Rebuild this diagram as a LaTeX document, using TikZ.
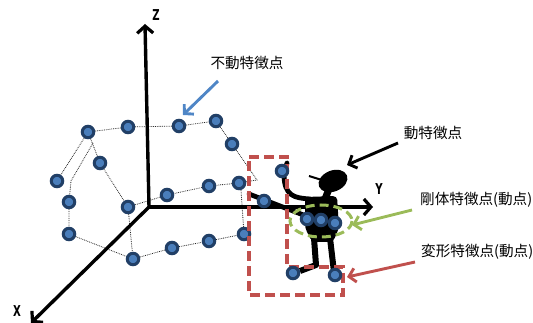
\documentclass[tikz,border=0pt]{standalone}
\usepackage{fontspec}
\setmainfont{Liberation Sans}
\newfontfamily\jpfont{Noto Sans CJK JP}
\newfontfamily\axfont{DejaVu Sans Condensed}
\usetikzlibrary{arrows.meta}
\definecolor{dotfill}{HTML}{4A7EBB}
\definecolor{dotedge}{HTML}{213F66}
\definecolor{callblue}{HTML}{4F86C6}
\definecolor{callgreen}{HTML}{9BBB59}
\definecolor{callred}{HTML}{C0504D}
\begin{document}
\begin{tikzpicture}[x=1pt,y=-1pt,
  feat/.style={circle,draw=dotedge,fill=dotfill,line width=3pt,minimum size=11.5pt,inner sep=0pt},
  wire/.style={densely dotted,line width=0.8pt,black!85},
  axis/.style={line width=3.4pt,-{Straight Barb[length=7pt,width=16pt,line width=3.2pt]}},
  callout/.style={line width=2.9pt,-{Straight Barb[length=6.5pt,width=14pt,line width=2.9pt]}},
  lbl/.style={font=\jpfont\fontsize{14.6}{15}\selectfont,inner sep=0pt},
  axlbl/.style={font=\axfont\bfseries\fontsize{15}{15}\selectfont,inner sep=0pt},
  limb/.style={line width=4.8pt,line cap=round,line join=round}]
\useasboundingbox (0,0) rectangle (533,323);

% ---- feature points of the static structure ----
\node[feat] (t1) at (88,132) {};
\node[feat] (t2) at (128,127) {};
\node[feat] (t3) at (179,126) {};
\node[feat] (t4) at (216,121) {};
\node[feat] (t5) at (232,144) {};
\node[feat] (s1) at (100,163) {};
\node[feat] (s2) at (57,181) {};
\node[feat] (s3) at (69,202) {};
\node[feat] (m1) at (128,207) {};
\node[feat] (m2) at (167,195) {};
\node[feat] (m3) at (209,186) {};
\node[feat] (m4) at (239,183) {};
\node[feat] (b1) at (69,234) {};
\node[feat] (b2) at (133,259) {};
\node[feat] (b3) at (172,248) {};
\node[feat] (b4) at (209,241) {};
\node[feat] (b5) at (244,234) {};
\coordinate (c1) at (257,180);
\coordinate (c2) at (93,143);
\coordinate (c3) at (71,181);
\coordinate (c4) at (241,190);

% ---- dotted wireframe ----
\draw[wire] (t1) -- (t2) -- (t3) -- (t4) -- (t5) -- (c1) -- (m4) -- (m3) -- (m2) -- (m1);
\draw[wire] (t1) -- (s1) -- (m1);
\draw[wire] (t1) -- (s2);
\draw[wire] (c2) -- (c3) -- (s3) -- (b1) -- (b2) -- (b3) -- (b4) -- (b5) -- (c4);
\draw[wire] (m1) -- (b2);

% ---- coordinate axes ----
\coordinate (O) at (149,207);
\coordinate (zend) at (145,24);
\coordinate (yend) at (373,207);
\coordinate (xend) at (31,323);
\draw[axis] (O) -- (zend);
\draw[axis] (O) -- (yend);
\draw[axis] (O) -- (xend);
\node[axlbl] (zl) at (156,15) {\scalebox{0.75}[1]{Z}};
\node[axlbl] (yl) at (379,189) {\scalebox{0.75}[1]{Y}};
\node[axlbl] (xl) at (17,311) {\scalebox{0.75}[1]{X}};

% ---- moving figure ----
\fill[rotate around={22:(333,181)}] (333,181) ellipse [x radius=15, y radius=10.5];
\draw[line width=2pt] (309,176) -- (325,181);
\draw[line width=7pt] (329,189) -- (325,199);
\fill[rounded corners=4pt] (305,197) -- (337,196) -- (339,228) -- (333,242) -- (312,242) -- (305,228) -- cycle;
\draw[limb] (287,163) -- (284,174) .. controls (284,196) and (294,198) .. (310,199);
\draw[limb] (249,194) -- (306,216);
\draw[line width=6pt,line join=round] (314,238) -- (316,265) -- (300,271);
\draw[line width=6pt,line join=round] (330,238) -- (334,272);

% ---- groups of moving points ----
\draw[callgreen,line width=3pt,dash pattern=on 9pt off 5pt] (321,221) ellipse [x radius=31, y radius=16];
\draw[callred,line width=3.4pt,dash pattern=on 10pt off 5pt]
  (249,157) -- (287,157) -- (287,267) -- (343,267) -- (343,295) -- (249,295) -- cycle;

% ---- moving feature points ----
\node[feat] (h1) at (282,171) {};
\node[feat] (h2) at (264,201) {};
\node[feat] (r1) at (307,219) {};
\node[feat] (r2) at (321,220) {};
\node[feat] (r3) at (335,223) {};
\node[feat] (d1) at (293,273) {};
\node[feat] (d2) at (335,275) {};

% ---- callouts ----
\node[lbl] (fixlbl) at (247,63) {不動特徴点};
\coordinate (fixtail) at (218,81);
\coordinate (fixhead) at (183,115);
\draw[callout,callblue] (fixtail) -- (fixhead);

\node[lbl] (movlbl) at (433,133) {動特徴点};
\coordinate (movtail) at (398,143);
\coordinate (movhead) at (347,165);
\draw[callout,black] (movtail) -- (movhead);

\node[lbl,anchor=west] (riglbl) at (420,200) {剛体特徴点(動点)};
\coordinate (rigtail) at (412,210);
\coordinate (righead) at (352,225);
\draw[callout,callgreen] (rigtail) -- (righead);

\node[lbl,anchor=west] (deflbl) at (421,252) {変形特徴点(動点)};
\coordinate (deftail) at (415,262);
\coordinate (defhead) at (347,277);
\draw[callout,callred] (deftail) -- (defhead);
\end{tikzpicture}
\end{document}
